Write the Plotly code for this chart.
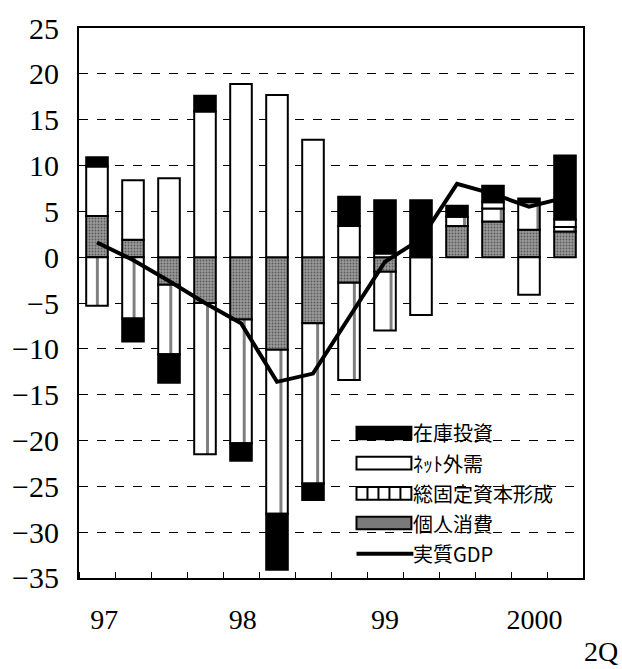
import plotly.graph_objects as go

quarters = ["97/1Q", "97/2Q", "97/3Q", "97/4Q", "98/1Q", "98/2Q", "98/3Q", "98/4Q",
            "99/1Q", "99/2Q", "99/3Q", "99/4Q", "2000/1Q", "2000/2Q"]
kojin = [4.5, 1.9, -3.0, -5.0, -6.8, -10.1, -7.2, -2.8, -1.6, None, 3.4, 3.9, 3.0, 2.8]
kotei = [-5.3, -6.7, -7.6, -16.5, -13.5, -17.9, -17.5, -10.6, -6.4, None, 1.0, 1.4, 3.0, 0.5]
netgai = [5.4, 6.5, 8.6, 15.9, 18.9, 17.7, 12.8, 3.4, 0.4, -6.3, None, 0.7, -4.1, 0.8]
zaiko = [1.0, -2.5, -3.1, 1.7, -1.9, -6.1, -1.8, 3.2, 5.8, 6.2, 1.2, 1.8, 0.4, 7.0]
gdp = [1.6, -0.3, -2.6, -5.0, -7.2, -13.6, -12.7, -6.5, -0.5, 2.0, 8.0, 6.9, 5.5, 6.5]

year_ticks = [0.2, 4.05, 8.0, 12.15]
year_labels = ["97", "98", "99", "2000"]
y_ticks = list(range(-35, 30, 5))

W, H = 622, 669
PL, PR, PT, PB = 69, 583, 13, 578          # plot area on screen
L, R, T, B = PL, W - PR, PT, H - PB
plot_w = PR - PL
plot_h = PB - PT
slot = plot_w / len(quarters)

x = list(range(len(quarters)))
outline = dict(color="black", width=2)
bw = 0.6

fig = go.Figure()
fig.add_trace(go.Bar(x=x, y=kojin, name="個人消費", width=bw,
                     marker=dict(color="#8a8a8a", line=outline,
                                 pattern=dict(shape=".", bgcolor="#9a9a9a", fgcolor="#1a1a1a",
                                              size=3, solidity=0.3))))
fig.add_trace(go.Bar(x=x, y=kotei, name="総固定資本形成", width=bw,
                     marker=dict(color="white", line=outline,
                                 pattern=dict(shape="|", bgcolor="white", fgcolor="black",
                                              size=slot, solidity=3.0 / slot))))
fig.add_trace(go.Bar(x=x, y=netgai, name="ﾈｯﾄ外需", width=bw,
                     marker=dict(color="white", line=outline)))
fig.add_trace(go.Bar(x=x, y=zaiko, name="在庫投資", width=bw,
                     marker=dict(color="black", line=outline)))
fig.add_trace(go.Scatter(x=x, y=gdp, name="実質GDP", mode="lines",
                         line=dict(color="black", width=4)))


def px2paper_x(px):
    return (px - PL) / plot_w


def px2paper_y(py):
    return (PB - py) / plot_h


shapes = []
shapes.append(dict(type="rect", xref="paper", yref="paper", layer="between",
                   x0=px2paper_x(340), x1=px2paper_x(582), y0=px2paper_y(572), y1=px2paper_y(410),
                   fillcolor="white", line=dict(width=0)))
lx0, lx1 = 352, 408
rows = [("在庫投資", 429), ("ﾈｯﾄ外需", 460), ("総固定資本形成", 491), ("個人消費", 521.5), ("実質GDP", 553)]
hh = 6.5


def rect(cy, fill):
    return dict(type="rect", xref="paper", yref="paper",
                x0=px2paper_x(lx0), x1=px2paper_x(lx1), y0=px2paper_y(cy + hh), y1=px2paper_y(cy - hh),
                fillcolor=fill, line=dict(color="black", width=2))


shapes.append(rect(rows[0][1], "black"))
shapes.append(rect(rows[1][1], "white"))
shapes.append(rect(rows[2][1], "white"))
for k in range(1, 5):
    xx = lx0 + k * (lx1 - lx0) / 5
    shapes.append(dict(type="line", xref="paper", yref="paper",
                       x0=px2paper_x(xx), x1=px2paper_x(xx),
                       y0=px2paper_y(rows[2][1] + hh), y1=px2paper_y(rows[2][1] - hh),
                       line=dict(color="black", width=2)))
shapes.append(rect(rows[3][1], "#7a7a7a"))
shapes.append(dict(type="line", xref="paper", yref="paper",
                   x0=px2paper_x(lx0), x1=px2paper_x(lx1 + 2), y0=px2paper_y(rows[4][1]), y1=px2paper_y(rows[4][1]),
                   line=dict(color="black", width=4)))

annotations = []
for name, cy in rows:
    annotations.append(dict(xref="paper", yref="paper", x=px2paper_x(409), y=px2paper_y(cy),
                            text=name, showarrow=False, xanchor="left", yanchor="middle",
                            borderpad=0,
                            font=dict(family="Noto Sans CJK JP", size=20, color="black")))
annotations.append(dict(xref="paper", yref="paper", x=px2paper_x(621), y=px2paper_y(653),
                        text="2Q", showarrow=False, xanchor="right", yanchor="middle",
                        font=dict(family="Liberation Serif", size=28, color="black")))

fig.update_layout(
    width=W, height=H,
    margin=dict(l=L, r=R, t=T, b=B, pad=0),
    barmode="relative",
    showlegend=False,
    plot_bgcolor="white", paper_bgcolor="white",
    shapes=shapes, annotations=annotations,
)
fig.update_xaxes(range=[-0.5, len(quarters) - 0.5], tickmode="array", tickvals=year_ticks,
                 ticktext=year_labels, ticks="", ticklabelstandoff=15,
                 ticklabeloverflow="allow",
                 tickfont=dict(family="Liberation Serif", size=28, color="black"),
                 showgrid=False, zeroline=False,
                 showline=True, linecolor="black", linewidth=2, mirror=True,
                 minor=dict(tickmode="linear", tick0=0.5, dtick=1, ticks="inside",
                            ticklen=6, tickcolor="black", tickwidth=1, showgrid=False))
fig.update_yaxes(range=[-35.001, 25.001], tickmode="array", tickvals=y_ticks,
                 ticks="inside", ticklen=6, tickcolor="black", ticklabelstandoff=12,
                 ticklabeloverflow="allow",
                 tickfont=dict(family="Liberation Serif", size=30, color="black"),
                 showgrid=True, gridcolor="black", gridwidth=1, griddash="dash",
                 zeroline=False,
                 showline=True, linecolor="black", linewidth=2, mirror=True)

fig.write_html("out.html", config={"displayModeBar": False},
               post_script="document.body.style.margin='0';document.body.style.overflow='hidden';")
